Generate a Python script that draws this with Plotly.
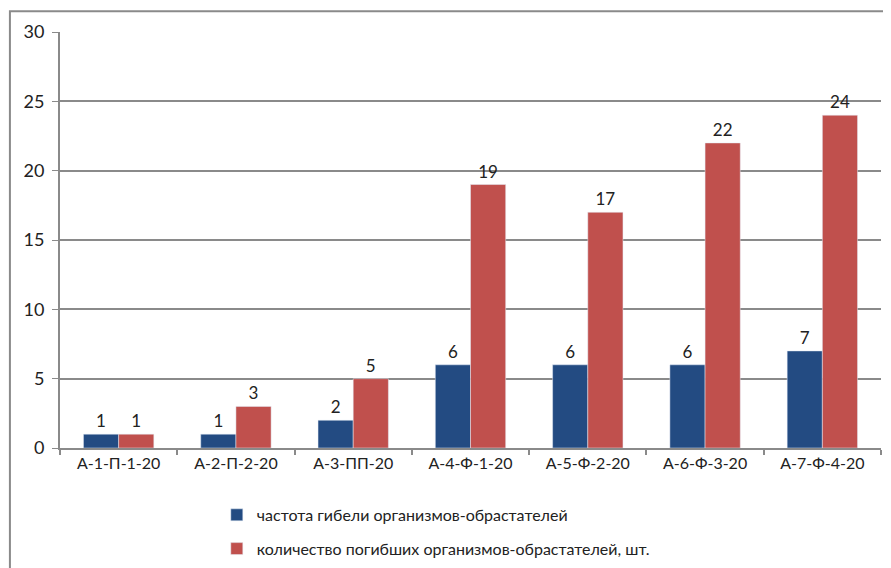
import plotly.graph_objects as go

# ── DATA ────────────────────────────────────────────────────
categories = ["А-1-П-1-20", "А-2-П-2-20", "А-3-ПП-20", "А-4-Ф-1-20",
              "А-5-Ф-2-20", "А-6-Ф-3-20", "А-7-Ф-4-20"]
freq_death = [1, 1, 2, 6, 6, 6, 7]
count_dead = [1, 3, 5, 19, 17, 22, 24]
y_ticks = [0, 5, 10, 15, 20, 25, 30]

name_freq = "частота гибели организмов-обрастателей"
name_count = "количество погибших организмов-обрастателей, шт."

FONT = "Lato, 'Open Sans', sans-serif"

# ── FIGURE ──────────────────────────────────────────────────
fig = go.Figure()
fig.add_trace(go.Bar(
    x=categories, y=freq_death, name=name_freq,
    marker_color="#234B82", legendgroup="a",
    text=freq_death, textposition="outside",
    textfont=dict(size=17, color="#222222", family=FONT),
    cliponaxis=False
))
fig.add_trace(go.Bar(
    x=categories, y=count_dead, name=name_count,
    marker_color="#C0504D", legendgroup="b",
    text=count_dead, textposition="outside",
    textfont=dict(size=17, color="#222222", family=FONT),
    cliponaxis=False
))

# outer chart border (runs off the right/bottom edge like the source)
fig.add_shape(type="rect", xref="paper", yref="paper",
              x0=-0.061, x1=1.03, y0=-0.35, y1=1.05,
              line=dict(color="#8a8a8a", width=2), fillcolor="rgba(0,0,0,0)")

# page body adds ~8px offset, so margins are trimmed on top/left
fig.update_layout(
    width=891, height=568,
    margin=dict(l=52, r=18, t=24, b=128, autoexpand=False),
    paper_bgcolor="white", plot_bgcolor="white",
    barmode="group", bargap=0.4, bargroupgap=0,
    font=dict(family=FONT, size=16, color="#222222"),
    showlegend=True,
    legend=dict(orientation="v", x=0.191, xanchor="left", y=-0.12, yanchor="top",
                tracegroupgap=10, font=dict(size=16, family=FONT),
                itemwidth=30, traceorder="grouped"),
    xaxis=dict(showline=True, linecolor="#8a8a8a", linewidth=2,
               ticks="outside", tickson="boundaries", ticklen=5,
               tickcolor="#8a8a8a", tickwidth=1.5,
               tickfont=dict(size=16, family=FONT)),
    yaxis=dict(range=[0, 30], tickvals=y_ticks, showgrid=True,
               gridcolor="#8a8a8a", gridwidth=1.5,
               showline=True, linecolor="#8a8a8a", linewidth=2,
               ticks="outside", ticklen=6, tickcolor="#8a8a8a",
               ticklabelstandoff=4,
               tickfont=dict(size=18, family=FONT), zeroline=False),
)

fig.write_html("out.html")
